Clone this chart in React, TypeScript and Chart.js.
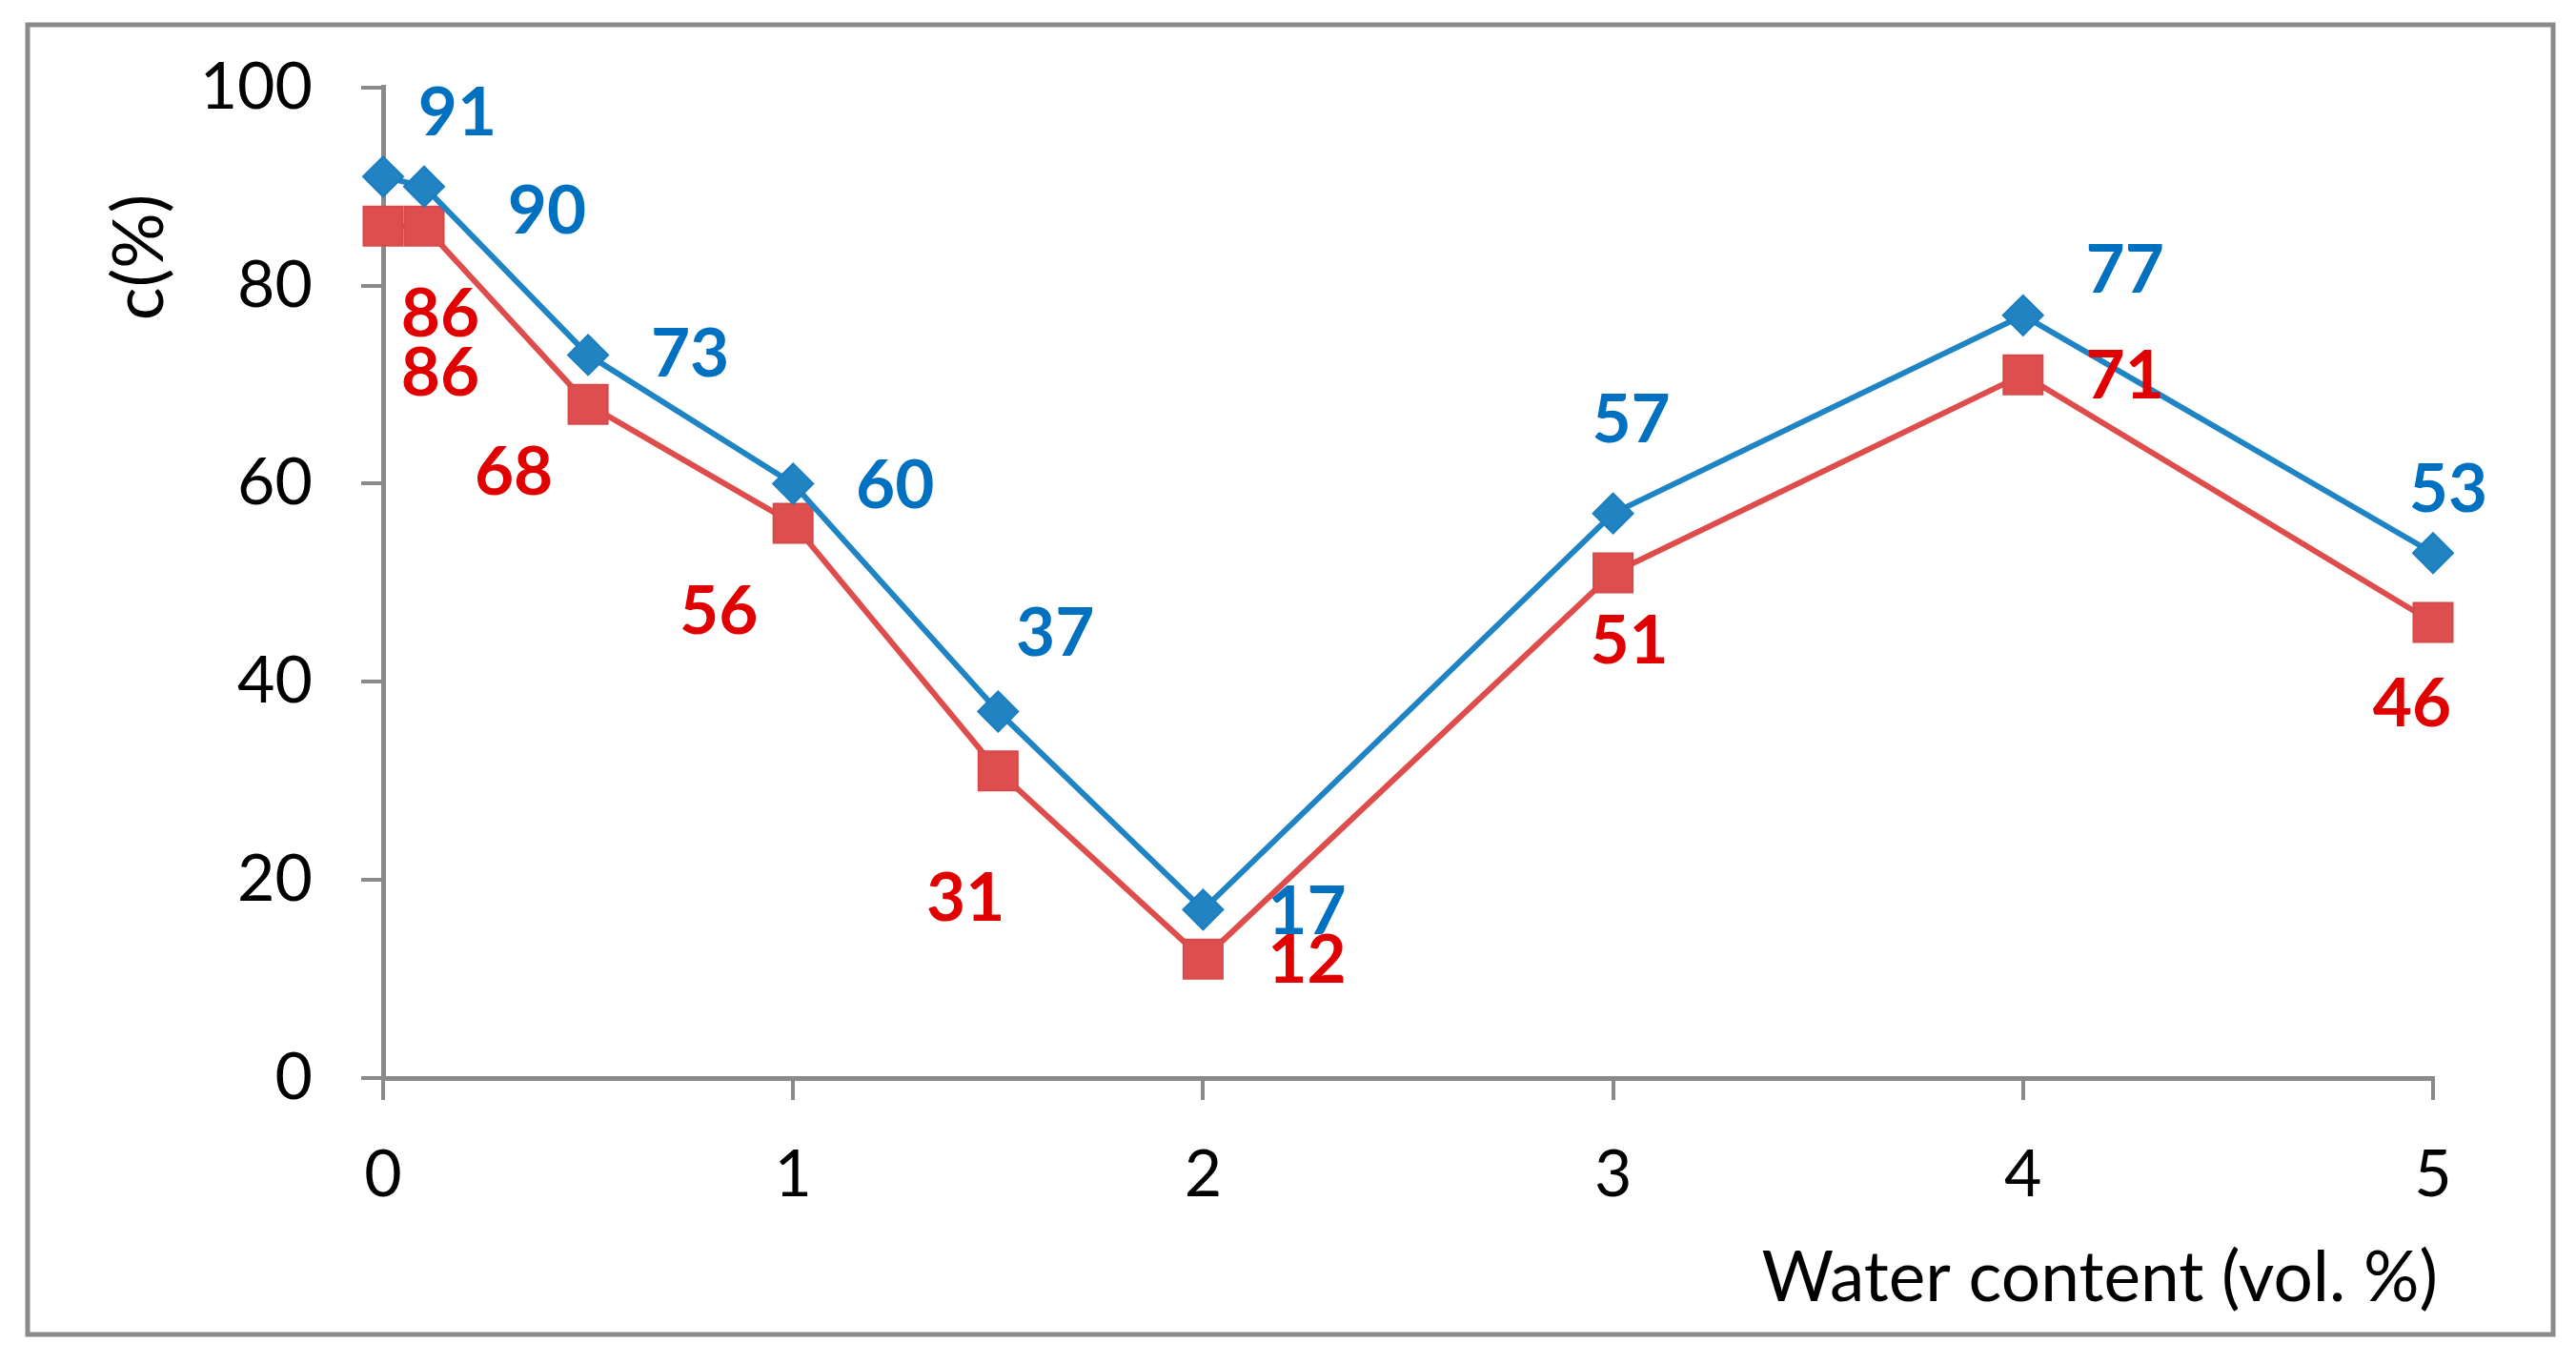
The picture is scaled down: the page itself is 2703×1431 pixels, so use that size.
import React, { useEffect, useRef } from 'react';
import { Chart, registerables } from 'chart.js';

Chart.register(...registerables);

// ---- data ----
const waterContent = [0, 0.1, 0.5, 1, 1.5, 2, 3, 4, 5];
const seriesBlue = [91, 90, 73, 60, 37, 17, 57, 77, 53];
const seriesRed = [86, 86, 68, 56, 31, 12, 51, 71, 46];
const xTickValues = [0, 1, 2, 3, 4, 5];
const yTickValues = [0, 20, 40, 60, 80, 100];
const xTitle = 'Water content (vol. %)';
const yTitle = 'c(%)';

// ---- label placement (layout, px) ----
const blueLabelOffsets = [[78, -66], [129, 26], [107, 0], [107, 3], [60, -81], [109, 3], [19, -98], [107, -47], [16, -66]];
const redLabelOffsets = [[60, 93], [17, 155], [-78, 72], [-78, 93], [-34, 134], [109, 2], [17, 72], [107, 2], [-22, 86]];

const FONT = 'Lato, "Open Sans", sans-serif';
const AXIS_GRAY = '#8A8A8A';
const BLUE_LINE = '#1E84C3';
const RED_LINE = '#DE4D4B';
const BLUE_TEXT = '#0070C0';
const RED_TEXT = '#E00000';

const framePlugin = {
  id: 'frame',
  beforeDraw(chart: any) {
    const ctx = chart.ctx;
    ctx.save();
    ctx.fillStyle = '#FFFFFF';
    ctx.fillRect(0, 0, chart.width, chart.height);
    ctx.strokeStyle = AXIS_GRAY;
    ctx.lineWidth = 5;
    ctx.strokeRect(29, 26, 2650, 1374);
    ctx.restore();
  },
};

const textPlugin = {
  id: 'texts',
  afterDatasetsDraw(chart: any) {
    const ctx = chart.ctx;
    ctx.save();
    ctx.font = `bold 71px ${FONT}`;
    ctx.textAlign = 'center';
    ctx.textBaseline = 'middle';
    const sets = [
      { idx: 0, offs: blueLabelOffsets, color: BLUE_TEXT, vals: seriesBlue },
      { idx: 1, offs: redLabelOffsets, color: RED_TEXT, vals: seriesRed },
    ];
    for (const s of sets) {
      const meta = chart.getDatasetMeta(s.idx);
      ctx.fillStyle = s.color;
      meta.data.forEach((pt: any, j: number) => {
        const o = s.offs[j];
        ctx.fillText(String(s.vals[j]), pt.x + o[0], pt.y + o[1]);
      });
    }
    // axis titles
    ctx.fillStyle = '#000000';
    ctx.font = `73px ${FONT}`;
    ctx.textAlign = 'right';
    ctx.fillText(xTitle, chart.chartArea.right + 5, 1341);
    ctx.save();
    ctx.translate(147, 270);
    ctx.rotate(-Math.PI / 2);
    ctx.textAlign = 'center';
    ctx.fillText(yTitle, 0, 0);
    ctx.restore();
    ctx.restore();
  },
};

export default function App() {
  const canvasRef = useRef<HTMLCanvasElement | null>(null);

  useEffect(() => {
    if (!canvasRef.current) return;
    const chart = new Chart(canvasRef.current, {
      type: 'line',
      data: {
        datasets: [
          {
            label: 'blue',
            data: waterContent.map((x, i) => ({ x, y: seriesBlue[i] })),
            borderColor: BLUE_LINE,
            backgroundColor: BLUE_LINE,
            borderWidth: 6,
            pointStyle: 'rectRot',
            pointRadius: 21,
            pointBorderWidth: 2,
            pointBackgroundColor: '#2283C3',
            pointBorderColor: '#1B7EC0',
            tension: 0,
            clip: false,
          },
          {
            label: 'red',
            data: waterContent.map((x, i) => ({ x, y: seriesRed[i] })),
            borderColor: RED_LINE,
            backgroundColor: RED_LINE,
            borderWidth: 6,
            pointStyle: 'rect',
            pointRadius: 29,
            pointBorderWidth: 2,
            pointBackgroundColor: '#DD4F4E',
            pointBorderColor: '#D94848',
            tension: 0,
            clip: false,
          },
        ],
      },
      options: {
        animation: false,
        responsive: true,
        maintainAspectRatio: false,
        devicePixelRatio: 1,
        layout: { padding: { left: 0, top: 90, right: 150, bottom: 0 } },
        plugins: {
          legend: { display: false },
          tooltip: { enabled: false },
        },
        scales: {
          x: {
            type: 'linear',
            min: 0,
            max: 5,
            afterBuildTicks: (s: any) => {
              s.ticks = xTickValues.map((v) => ({ value: v }));
            },
            afterFit: (s: any) => {
              s.height = 300;
            },
            ticks: {
              color: '#000000',
              font: { family: FONT, size: 68 },
              padding: 38,
              maxRotation: 0,
              autoSkip: false,
            },
            grid: {
              drawOnChartArea: false,
              drawTicks: true,
              tickLength: 23,
              color: AXIS_GRAY,
              lineWidth: 4,
            },
            border: { color: AXIS_GRAY, width: 5 },
          },
          y: {
            type: 'linear',
            min: 0,
            max: 100,
            afterBuildTicks: (s: any) => {
              s.ticks = yTickValues.map((v) => ({ value: v }));
            },
            afterFit: (s: any) => {
              s.width = 402;
            },
            ticks: {
              color: '#000000',
              font: { family: FONT, size: 68 },
              padding: 51,
              autoSkip: false,
            },
            grid: {
              drawOnChartArea: false,
              drawTicks: true,
              tickLength: 23,
              color: AXIS_GRAY,
              lineWidth: 4,
            },
            border: { color: AXIS_GRAY, width: 5 },
          },
        },
      },
      plugins: [framePlugin, textPlugin],
    } as any);
    return () => chart.destroy();
  }, []);

  return (
    <div style={{ position: 'fixed', left: 0, top: 0, width: '2703px', height: '1431px', background: '#fff' }}>
      <canvas ref={canvasRef} />
    </div>
  );
}
